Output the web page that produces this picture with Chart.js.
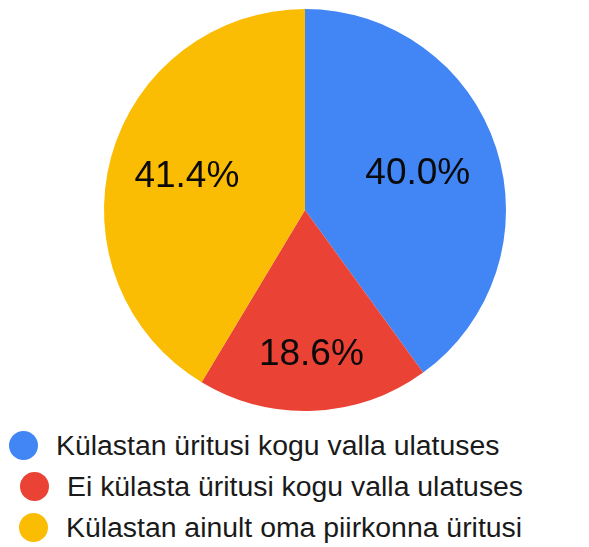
<!DOCTYPE html>
<html>
<head>
<meta charset="utf-8">
<script src="https://cdn.jsdelivr.net/npm/chart.js@4.4.1/dist/chart.umd.min.js"></script>
<style>
  html, body { margin: 0; padding: 0; background: #fff; }
  #wrap { position: relative; width: 589px; height: 547px; overflow: hidden; }
  #pie { position: absolute; left: 0; top: 0; }
  #legend { position: absolute; left: 0; top: 425px; font-family: "Liberation Sans", Arial, sans-serif; font-size: 28.4px; color: #1a1a1a; }
  .row { display: flex; align-items: center; height: 41px; white-space: nowrap; }
  .row:nth-child(1) { padding-left: 9px; }
  .row:nth-child(2) { padding-left: 20px; }
  .row:nth-child(3) { padding-left: 19px; }
  .dot { width: 29px; height: 29px; border-radius: 50%; margin-right: 18px; flex: none; }
</style>
</head>
<body>
<div id="wrap">
  <canvas id="pie" width="589" height="420"></canvas>
  <div id="legend"></div>
</div>
<script>
// === Data ===
const labels = [
  'Külastan üritusi kogu valla ulatuses',
  'Ei külasta üritusi kogu valla ulatuses',
  'Külastan ainult oma piirkonna üritusi'
];
const values = [40.0, 18.6, 41.4];
const colors = ['#4285F4', '#EA4335', '#FBBC04'];

// === Percent labels inside slices ===
const sliceLabels = {
  id: 'sliceLabels',
  afterDatasetsDraw(chart, args, opts) {
    const { ctx } = chart;
    const meta = chart.getDatasetMeta(0);
    const data = chart.data.datasets[0].data;
    const total = data.reduce((a, b) => a + b, 0);
    ctx.save();
    ctx.font = '37px "Liberation Sans", Arial, sans-serif';
    ctx.fillStyle = '#0a0a0a';
    ctx.textAlign = 'center';
    ctx.textBaseline = 'middle';
    meta.data.forEach((arc, i) => {
      const p = arc.getProps(['x', 'y', 'startAngle', 'endAngle', 'outerRadius'], true);
      const mid = (p.startAngle + p.endAngle) / 2;
      const r = p.outerRadius * opts.radius[i];
      const text = (data[i] / total * 100).toFixed(1) + '%';
      ctx.fillText(text, p.x + Math.cos(mid) * r, p.y + Math.sin(mid) * r);
    });
    ctx.restore();
  }
};

new Chart(document.getElementById('pie'), {
  type: 'pie',
  data: {
    labels,
    datasets: [{
      data: values,
      backgroundColor: colors,
      borderWidth: 0,
      hoverOffset: 0
    }]
  },
  options: {
    responsive: false,
    animation: false,
    devicePixelRatio: 1,
    layout: { padding: { left: 104, right: 83, top: 9, bottom: 9 } },
    plugins: {
      legend: { display: false },
      tooltip: { enabled: false },
      sliceLabels: { radius: [0.59, 0.72, 0.61] }
    }
  },
  plugins: [sliceLabels]
});

// === Legend ===
const legend = document.getElementById('legend');
labels.forEach((label, i) => {
  const row = document.createElement('div');
  row.className = 'row';
  row.innerHTML = `<span class="dot" style="background:${colors[i]}"></span><span>${label}</span>`;
  legend.appendChild(row);
});
</script>
</body>
</html>
